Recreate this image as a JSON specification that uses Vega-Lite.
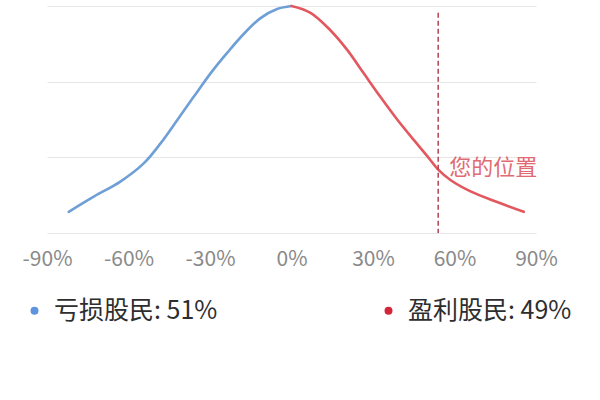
{
  "$schema": "https://vega.github.io/schema/vega-lite/v6.json",
  "autosize": "none",
  "width": 489,
  "height": 227,
  "padding": {"left": 47, "top": 6, "right": 64, "bottom": 167},
  "background": "white",
  "config": {
    "view": {"stroke": null},
    "font": "Noto Sans CJK SC"
  },
  "datasets": {
    "curve": [
      {"pct": -82, "density": 0.28, "side": "亏损股民: 51%"},
      {"pct": -72.8, "density": 0.48, "side": "亏损股民: 51%"},
      {"pct": -63, "density": 0.68, "side": "亏损股民: 51%"},
      {"pct": -54.4, "density": 0.92, "side": "亏损股民: 51%"},
      {"pct": -48.2, "density": 1.185, "side": "亏损股民: 51%"},
      {"pct": -42.1, "density": 1.49, "side": "亏损股民: 51%"},
      {"pct": -36, "density": 1.80, "side": "亏损股民: 51%"},
      {"pct": -29.8, "density": 2.11, "side": "亏损股民: 51%"},
      {"pct": -23.7, "density": 2.38, "side": "亏损股民: 51%"},
      {"pct": -17.6, "density": 2.63, "side": "亏损股民: 51%"},
      {"pct": -11.4, "density": 2.84, "side": "亏损股民: 51%"},
      {"pct": -5.3, "density": 2.96, "side": "亏损股民: 51%"},
      {"pct": 0, "density": 3.0, "side": "亏损股民: 51%"},
      {"pct": 0, "density": 3.0, "side": "盈利股民: 49%"},
      {"pct": 7, "density": 2.91, "side": "盈利股民: 49%"},
      {"pct": 14.3, "density": 2.68, "side": "盈利股民: 49%"},
      {"pct": 20.5, "density": 2.42, "side": "盈利股民: 49%"},
      {"pct": 26.6, "density": 2.11, "side": "盈利股民: 49%"},
      {"pct": 32.7, "density": 1.80, "side": "盈利股民: 49%"},
      {"pct": 38.9, "density": 1.50, "side": "盈利股民: 49%"},
      {"pct": 45, "density": 1.23, "side": "盈利股民: 49%"},
      {"pct": 49.9, "density": 1.02, "side": "盈利股民: 49%"},
      {"pct": 54.2, "density": 0.83, "side": "盈利股民: 49%"},
      {"pct": 58.5, "density": 0.70, "side": "盈利股民: 49%"},
      {"pct": 65.9, "density": 0.55, "side": "盈利股民: 49%"},
      {"pct": 75.7, "density": 0.41, "side": "盈利股民: 49%"},
      {"pct": 85.5, "density": 0.28, "side": "盈利股民: 49%"}
    ],
    "marker": [
      {"pct": 54, "label": "您的位置"}
    ]
  },
  "layer": [
    {
      "data": {"name": "curve"},
      "mark": {"type": "line", "interpolate": "catmull-rom", "strokeWidth": 2.6, "strokeCap": "round"},
      "encoding": {
        "x": {
          "field": "pct", "type": "quantitative",
          "scale": {"domain": [-90, 90], "nice": false, "zero": false},
          "axis": {
            "values": [-90, -60, -30, 0, 30, 60, 90],
            "labelExpr": "datum.value + '%'",
            "grid": false, "domain": false, "ticks": false,
            "labelFontSize": 21, "labelColor": "#8a8a8a", "labelPadding": 15,
            "labelFont": "Noto Sans CJK SC", "labelFlush": false, "labelOverlap": false,
            "title": null
          }
        },
        "y": {
          "field": "density", "type": "quantitative",
          "scale": {"domain": [0, 3], "nice": false},
          "axis": {
            "values": [0, 1, 2, 3],
            "grid": true, "gridColor": "#e6e6e6", "gridWidth": 1.2,
            "labels": false, "ticks": false, "domain": false, "title": null
          }
        },
        "color": {
          "field": "side", "type": "nominal",
          "scale": {"domain": ["亏损股民: 51%", "盈利股民: 49%"], "range": ["#6e9fd6", "#e2585f"]},
          "legend": {
            "title": null,
            "orient": "none",
            "legendX": -25,
            "legendY": 292,
            "direction": "horizontal",
            "columns": 2,
            "columnPadding": 158,
            "symbolType": "circle",
            "symbolSize": 64,
            "labelFontSize": 25,
            "labelColor": "#2e2e2e",
            "labelFont": "Noto Sans CJK SC",
            "labelOffset": 7,
            "labelLimit": 300,
            "encode": {
              "symbols": {
                "update": {
                  "fill": {"signal": "datum.value === '亏损股民: 51%' ? '#5f93de' : '#d4263b'"},
                  "strokeWidth": {"value": 0},
                  "opacity": {"value": 1}
                }
              }
            }
          }
        }
      }
    },
    {
      "data": {"name": "marker"},
      "mark": {"type": "rule", "strokeDash": [5, 3], "strokeWidth": 1.5, "color": "#b5454f"},
      "encoding": {
        "x": {"field": "pct", "type": "quantitative"},
        "y": {"datum": 2.91},
        "y2": {"datum": 0}
      }
    },
    {
      "data": {"name": "marker"},
      "mark": {"type": "text", "align": "left", "baseline": "middle", "dx": 11, "fontSize": 22, "color": "#e06b73", "font": "Noto Sans CJK SC"},
      "encoding": {
        "x": {"field": "pct", "type": "quantitative"},
        "y": {"datum": 0.86},
        "text": {"field": "label"}
      }
    }
  ]
}
